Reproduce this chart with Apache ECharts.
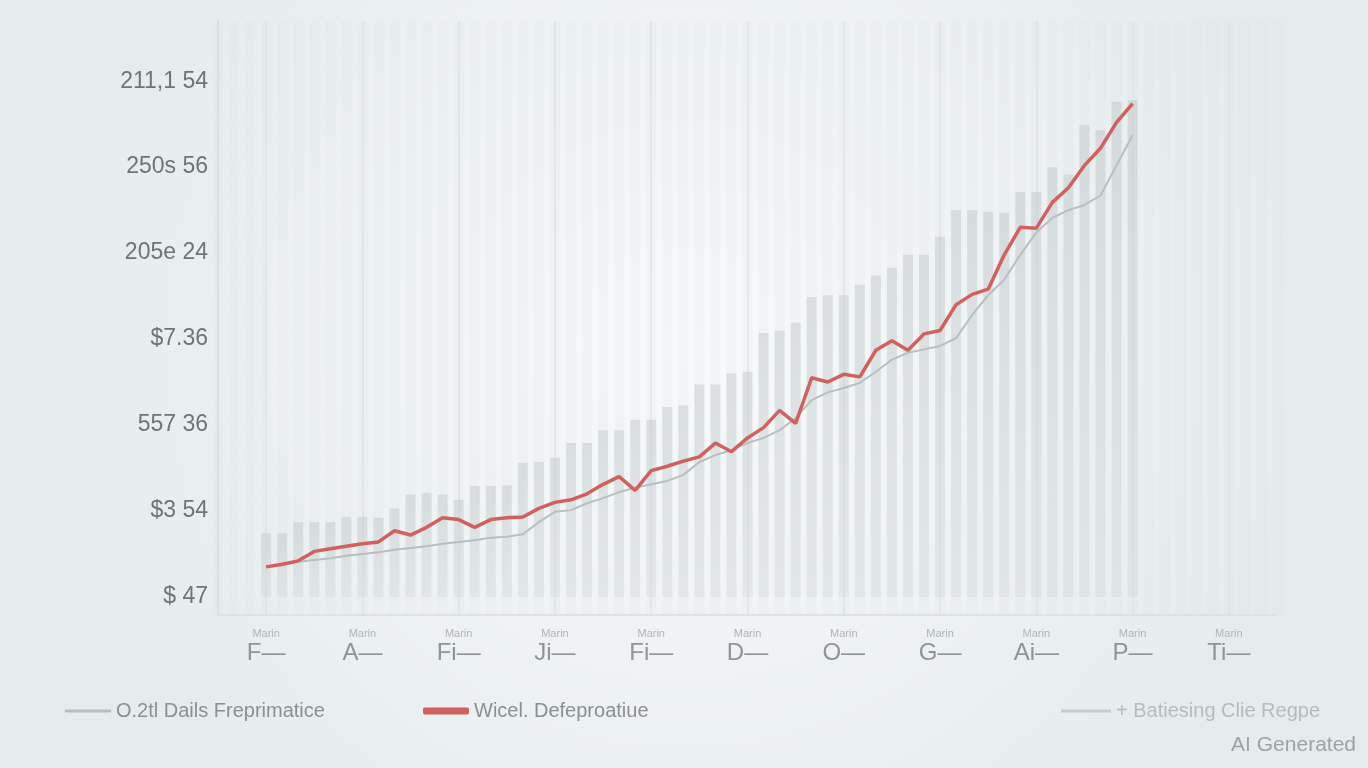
<!DOCTYPE html>
<html>
<head>
<meta charset="utf-8">
<script src="https://cdn.jsdelivr.net/npm/echarts@6/dist/echarts.min.js"></script>
<style>
  html, body { margin: 0; padding: 0; }
  #chart { width: 1368px; height: 768px; }
</style>
</head>
<body>
<div id="chart"></div>
<script>
    // --- data ---
    const yTicks = [0, 1, 2, 3, 4, 5, 6];
    const yLabels = ['$ 47', '$3 54', '557 36', '$7.36', '205e 24', '250s 56', '211,1 54'];
    const xLabels = ['F', 'A', 'Fi', 'Ji', 'Fi', 'D', 'O', 'G', 'Ai', 'P', 'Ti'];
    const xSubLabels = ['Marin', 'Marin', 'Marin', 'Marin', 'Marin', 'Marin', 'Marin', 'Marin', 'Marin', 'Marin', 'Marin'];
    const legendNames = ['O.2tl Dails Freprimatice', 'Wicel. Defeproatiue', '+ Batiesing Clie Regpe'];

    // bars (grey columns)
    const barValues = [
        0.74, 0.74, 0.87, 0.87, 0.87, 0.93, 0.93, 0.92, 1.03, 1.19,
        1.21, 1.19, 1.13, 1.29, 1.29, 1.30, 1.56, 1.57, 1.62, 1.79,
        1.79, 1.94, 1.94, 2.06, 2.06, 2.21, 2.23, 2.47, 2.47, 2.60,
        2.62, 3.07, 3.10, 3.19, 3.49, 3.51, 3.51, 3.63, 3.74, 3.83,
        3.98, 3.98, 4.19, 4.50, 4.50, 4.48, 4.47, 4.71, 4.71, 5.00,
        4.91, 5.49, 5.43, 5.76, 5.78
    ];
    // red line
    const redValues = [
        0.35, 0.38, 0.42, 0.53, 0.56, 0.59, 0.62, 0.64, 0.77, 0.72,
        0.81, 0.92, 0.90, 0.81, 0.90, 0.92, 0.93, 1.03, 1.10, 1.13,
        1.20, 1.31, 1.40, 1.24, 1.47, 1.52, 1.58, 1.63, 1.79, 1.69,
        1.85, 1.97, 2.17, 2.02, 2.55, 2.50, 2.59, 2.56, 2.87, 2.98,
        2.87, 3.06, 3.10, 3.40, 3.52, 3.58, 3.98, 4.30, 4.29, 4.59,
        4.76, 5.02, 5.22, 5.52, 5.74
    ];
    // grey line
    const greyValues = [
        0.35, 0.37, 0.41, 0.43, 0.45, 0.48, 0.50, 0.52, 0.55, 0.57,
        0.59, 0.62, 0.64, 0.66, 0.69, 0.70, 0.73, 0.87, 0.99, 1.01,
        1.09, 1.15, 1.22, 1.27, 1.31, 1.35, 1.42, 1.57, 1.65, 1.71,
        1.79, 1.85, 1.94, 2.08, 2.29, 2.38, 2.43, 2.49, 2.62, 2.76,
        2.84, 2.88, 2.92, 3.01, 3.28, 3.51, 3.69, 3.98, 4.24, 4.41,
        4.50, 4.56, 4.67, 5.02, 5.37
    ];

    // --- category slots: 3 empty before the data, label every 6 slots ---
    const LEAD = 3, STEP = 6, SLOTS = 67;
    const categories = [];
    for (let i = 0; i < SLOTS; i++) categories.push('s' + i);
    const pad = arr => {
        const out = [];
        for (let i = 0; i < SLOTS; i++) {
            const k = i - LEAD;
            out.push(k >= 0 && k < arr.length ? arr[k] : null);
        }
        return out;
    };
    const isLabelSlot = idx => idx >= LEAD && (idx - LEAD) % STEP === 0;

    const legendBase = {
        orient: 'horizontal', bottom: 42, itemGap: 10, selectedMode: false,
        textStyle: { color: '#8a9093', fontSize: 20, fontFamily: 'Liberation Sans Narrow, Liberation Sans, sans-serif' }
    };

    const chart = echarts.init(document.getElementById('chart'));
    chart.setOption({
        animation: false,
        backgroundColor: {
            type: 'radial', x: 0.5, y: 0.45, r: 0.8,
            colorStops: [{ offset: 0, color: '#f8fafb' }, { offset: 1, color: '#e6ecee' }]
        },
        grid: { left: 218, right: 91, top: 21, bottom: 153 },
        legend: [
            { ...legendBase, left: 60, itemWidth: 46, itemHeight: 3,
              data: [{ name: legendNames[0], icon: 'rect', itemStyle: { color: '#b8bfc1' } }] },
            { ...legendBase, left: 418, itemWidth: 46, itemHeight: 7,
              data: [{ name: legendNames[1], icon: 'roundRect', itemStyle: { color: '#d2605d' } }] },
            { ...legendBase, left: 1056, itemWidth: 50, itemHeight: 3,
              textStyle: { ...legendBase.textStyle, color: '#b6bcbe' },
              data: [{ name: legendNames[2], icon: 'rect', itemStyle: { color: '#c6cccd' } }] }
        ],
        xAxis: {
            type: 'category', data: categories, boundaryGap: false,
            axisLine: { onZero: false, lineStyle: { color: '#d9dfe1', width: 1.5 } },
            axisTick: { show: false },
            splitLine: { show: true, interval: isLabelSlot, lineStyle: { color: '#dfe4e6', width: 1.5 } },
            axisLabel: {
                interval: isLabelSlot, margin: 12,
                formatter: (v, idx) => {
                    const k = (idx - LEAD) / STEP;
                    return '{s|' + xSubLabels[k] + '}\n{b|' + xLabels[k] + '\u2014}';
                },
                rich: {
                    s: { fontSize: 11, color: '#b0b5b7', lineHeight: 13, fontFamily: 'Liberation Sans Narrow, sans-serif' },
                    b: { fontSize: 24, color: '#8f9496', lineHeight: 26, fontFamily: 'Liberation Sans Narrow, Liberation Sans, sans-serif' }
                }
            }
        },
        yAxis: {
            type: 'value', min: -0.21, max: 6.7,
            axisLine: { show: true, lineStyle: { color: '#d5dadc', width: 1.5 } },
            axisTick: { show: false },
            splitLine: { show: false },
            axisLabel: {
                margin: 10, color: '#6f7477', fontSize: 23,
                fontFamily: 'Liberation Sans Narrow, Liberation Sans, sans-serif',
                customValues: yTicks,
                formatter: v => yLabels[yTicks.indexOf(v)] || ''
            }
        },
        series: [
            {
                name: legendNames[2], type: 'bar', data: pad(barValues), barWidth: 10,
                showBackground: true,
                backgroundStyle: { color: 'rgba(215,222,224,0.16)' },
                itemStyle: {
                    color: new echarts.graphic.LinearGradient(0, 0, 0, 1, [
                        { offset: 0, color: 'rgba(192,199,201,0.48)' },
                        { offset: 1, color: 'rgba(208,214,216,0.35)' }
                    ])
                },
                z: 1
            },
            {
                name: legendNames[0], type: 'line', data: pad(greyValues), symbol: 'none',
                lineStyle: { color: '#b8bfc1', width: 2 }, z: 3
            },
            {
                name: legendNames[1], type: 'line', data: pad(redValues), symbol: 'none',
                lineStyle: { color: '#d2605d', width: 3.5 }, z: 4
            }
        ],
        graphic: [{
            type: 'text', right: 12, bottom: 12,
            style: { text: 'AI Generated', fill: '#9da2a4', fontSize: 21, fontFamily: 'Liberation Sans, sans-serif' }
        }]
    });
</script>
</body>
</html>
